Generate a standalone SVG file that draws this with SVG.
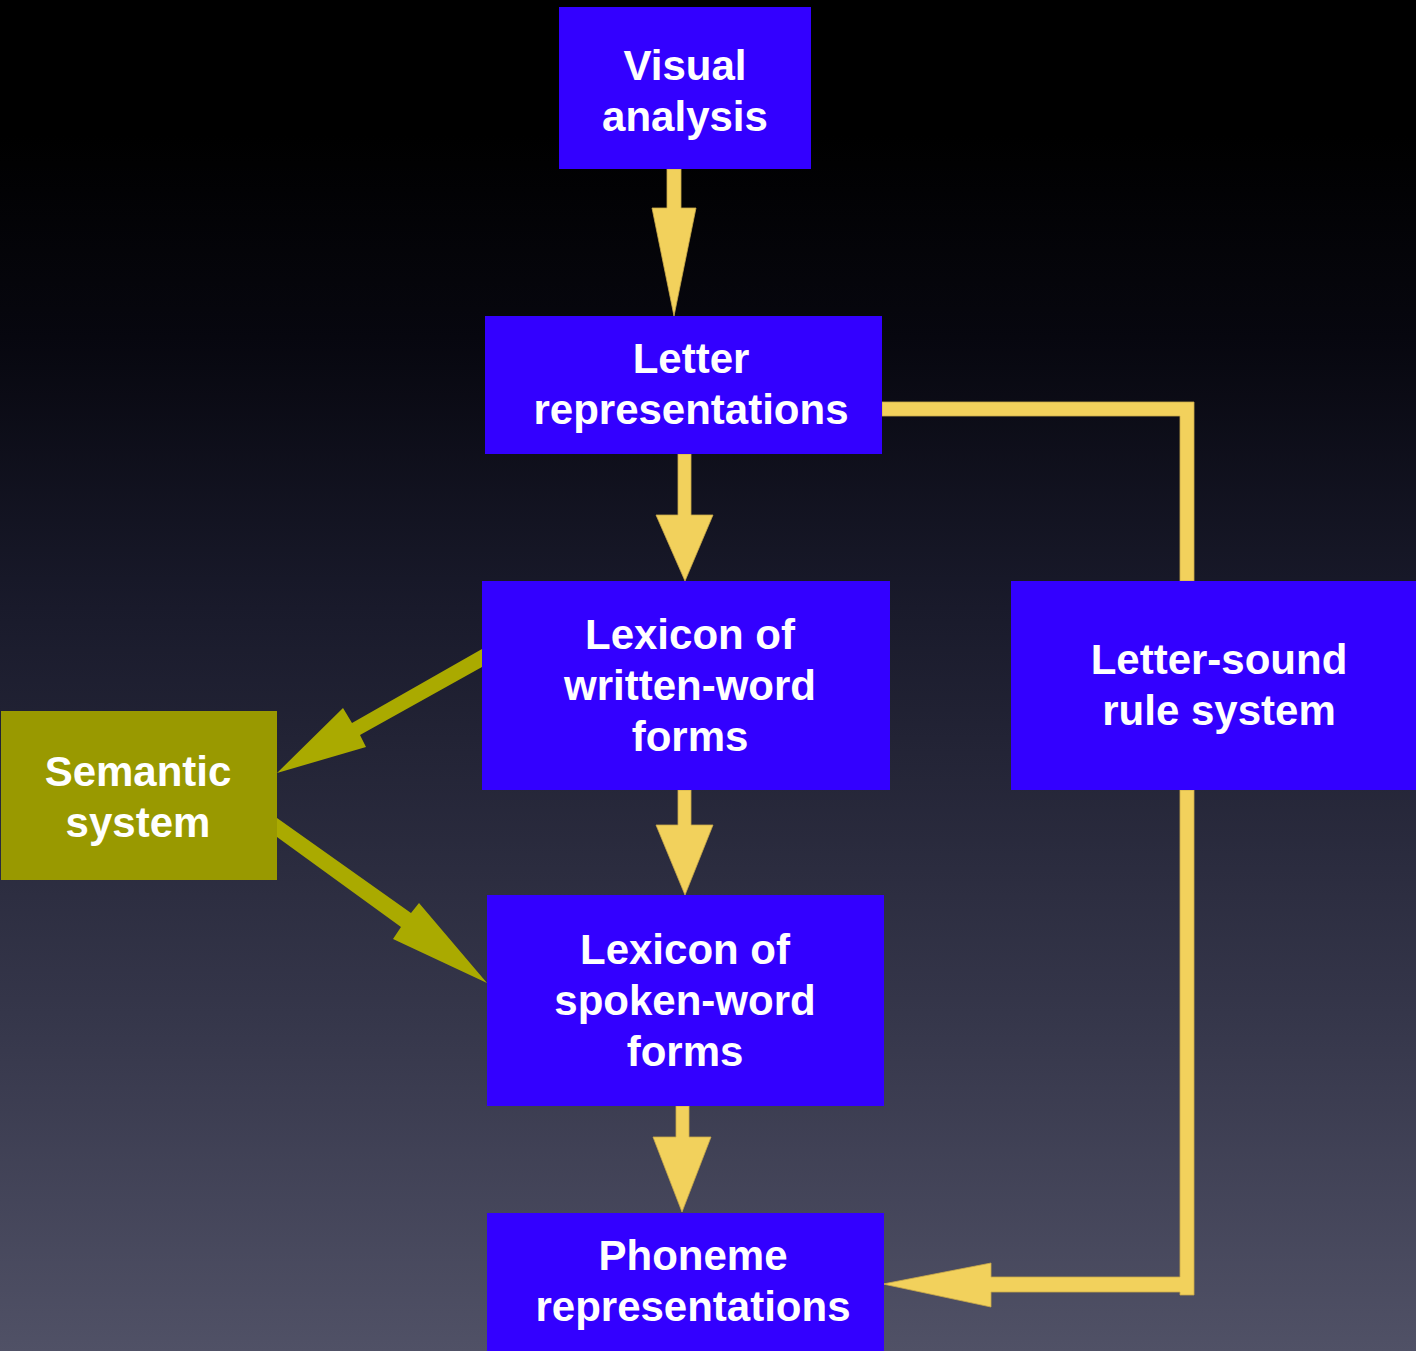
<svg xmlns="http://www.w3.org/2000/svg" width="1416" height="1351" viewBox="0 0 1416 1351">
  <defs>
    <linearGradient id="bg" x1="0" y1="0" x2="0" y2="1351" gradientUnits="userSpaceOnUse">
      <stop offset="0" stop-color="#000000"/>
      <stop offset="0.1" stop-color="#000000"/>
      <stop offset="0.25" stop-color="#07070f"/>
      <stop offset="0.45" stop-color="#191a2b"/>
      <stop offset="0.75" stop-color="#35364a"/>
      <stop offset="1" stop-color="#505166"/>
    </linearGradient>
    <style>
      .box { fill: #3300ff; }
      .sem { fill: #999900; }
      .lbl { font-family: "Liberation Sans", Arial, sans-serif; font-weight: bold; font-size: 42px; fill: #ffffff; text-anchor: middle; }
      .flow { fill: #f2d15c; stroke: #c9a94a; stroke-width: 0.8; }
      .sarrow { fill: #aaaa00; }
    </style>
  </defs>

  <rect x="0" y="0" width="1416" height="1351" fill="url(#bg)"/>

  <!-- connectors -->
  <g id="connectors">
    <!-- Visual analysis -> Letter representations -->
    <path class="flow" d="M667,169 H681 V208 H696 L674,316 L652,208 H667 Z"/>
    <!-- Letter representations -> Lexicon of written-word forms -->
    <path class="flow" d="M678,454 H691 V515 H713 L685,581 L656,515 H678 Z"/>
    <!-- Lexicon of written-word forms -> Lexicon of spoken-word forms -->
    <path class="flow" d="M678,790 H691 V825 H713 L685,895 L656,825 H678 Z"/>
    <!-- Lexicon of spoken-word forms -> Phoneme representations -->
    <path class="flow" d="M676,1106 H689 V1137 H711 L682,1212 L653,1137 H676 Z"/>
    <!-- Letter representations -> Letter-sound rule system -->
    <path class="flow" d="M882,402 H1194 V581 H1180 V416 H882 Z"/>
    <!-- Letter-sound rule system -> Phoneme representations -->
    <path class="flow" d="M1180,790 H1194 V1295 H1180 V1292 H991 V1307 L883,1284 L991,1263 V1277 H1180 Z"/>
    <!-- Lexicon of written-word forms -> Semantic system -->
    <path class="sarrow" d="M482,649 L482,667 L360,735 L366,747 L277,773 L343,708 L352,723 Z"/>
    <!-- Semantic system -> Lexicon of spoken-word forms -->
    <path class="sarrow" d="M277,818 L277,837 L401,927 L393,939 L487,983 L419,903 L411,913 Z"/>
  </g>

  <!-- nodes -->
  <g id="visual-analysis">
    <rect class="box" x="559" y="7" width="252" height="162"/>
    <text class="lbl" x="685" y="80">Visual</text>
    <text class="lbl" x="685" y="131">analysis</text>
  </g>

  <g id="letter-representations">
    <rect class="box" x="485" y="316" width="397" height="138"/>
    <text class="lbl" x="691" y="373">Letter</text>
    <text class="lbl" x="691" y="424">representations</text>
  </g>

  <g id="lexicon-written">
    <rect class="box" x="482" y="581" width="408" height="209"/>
    <text class="lbl" x="690" y="649">Lexicon of</text>
    <text class="lbl" x="690" y="700">written-word</text>
    <text class="lbl" x="690" y="751">forms</text>
  </g>

  <g id="letter-sound">
    <rect class="box" x="1011" y="581" width="405" height="209"/>
    <text class="lbl" x="1219" y="674">Letter-sound</text>
    <text class="lbl" x="1219" y="725">rule system</text>
  </g>

  <g id="semantic-system">
    <rect class="sem" x="1" y="711" width="276" height="169"/>
    <text class="lbl" x="138" y="786">Semantic</text>
    <text class="lbl" x="138" y="837">system</text>
  </g>

  <g id="lexicon-spoken">
    <rect class="box" x="487" y="895" width="397" height="211"/>
    <text class="lbl" x="685" y="964">Lexicon of</text>
    <text class="lbl" x="685" y="1015">spoken-word</text>
    <text class="lbl" x="685" y="1066">forms</text>
  </g>

  <g id="phoneme-representations">
    <rect class="box" x="487" y="1213" width="397" height="138"/>
    <text class="lbl" x="693" y="1270">Phoneme</text>
    <text class="lbl" x="693" y="1321">representations</text>
  </g>
</svg>
